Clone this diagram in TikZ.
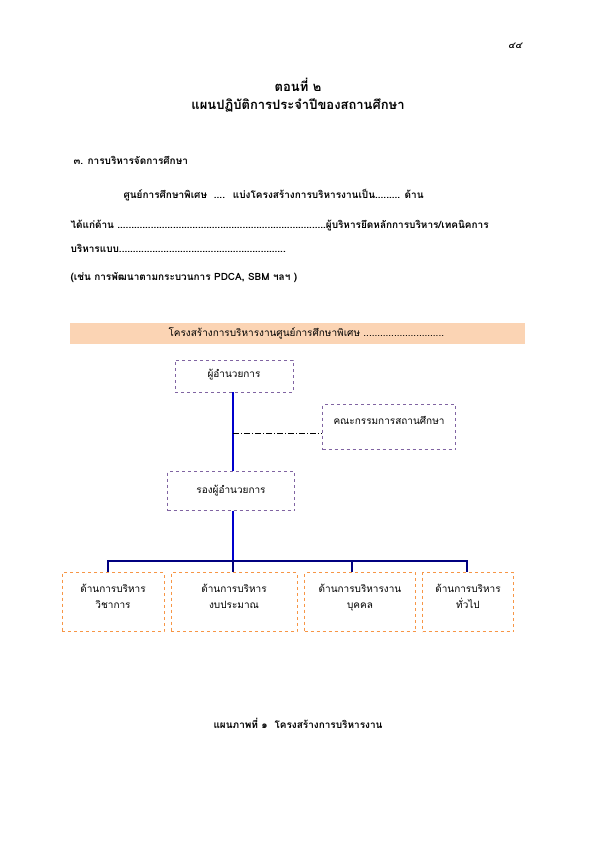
\documentclass[tikz,border=0pt]{standalone}
\usepackage{fontspec}
\setmainfont[Script=Thai]{Loma}
\usetikzlibrary{positioning, calc}
\definecolor{boxline}{HTML}{8064A2}
\definecolor{unitline}{HTML}{F79646}
\definecolor{bandfill}{HTML}{FBD4B4}
\definecolor{trunkblue}{RGB}{0,0,205}
\definecolor{busnavy}{RGB}{0,0,128}

\begin{document}
\begin{tikzpicture}[
    x=1pt, y=-1pt,
    font=\fontsize{10}{12}\selectfont,
    head/.style={
        draw=boxline, dashed, thick, minimum width=118pt, minimum height=32pt, align=center
    },
    unit/.style={
        draw=unitline, dashed, thick, minimum height=59pt, align=center, text depth=12pt
    },
    body/.style={anchor=west, font=\fontsize{10}{12}\selectfont\bfseries},
    trunk/.style={draw=trunkblue, line width=2.5pt},
    bus/.style={draw=busnavy, line width=2.5pt}
]
    \useasboundingbox (0,0) rectangle (595,842);

    % --- ข้อความส่วนบน ---
    \node [font=\fontsize{9}{11}\selectfont\bfseries\itshape] (pageno) at (515,46) {๔๔};
    \node [font=\fontsize{13}{15}\selectfont\bfseries] (part) at (298,85) {ตอนที่ ๒};
    \node [font=\fontsize{13}{15}\selectfont\bfseries, below=0pt of part] (title) {แผนปฏิบัติการประจำปีของสถานศึกษา};
    \node [body] (sec) at (70,160) {๓. การบริหารจัดการศึกษา};
    \node [body] (line1) at (120,195) {ศูนย์การศึกษาพิเศษ \ .... \ แบ่งโครงสร้างการบริหารงานเป็น......... ด้าน};
    \node [body] (line2) at (67,226) {ได้แก่ด้าน ...........................................................................ผู้บริหารยึดหลักการบริหาร/เทคนิคการ};
    \node [body] (line3) at (67,248) {บริหารแบบ............................................................};
    \node [body] (line4) at (67,278) {(เช่น การพัฒนาตามกระบวนการ PDCA, SBM ฯลฯ )};

    % --- แถบหัวเรื่อง ---
    \node [fill=bandfill, minimum width=455pt, minimum height=21pt, text width=445pt, align=left] (band) at (297,333) {\hspace{94pt}โครงสร้างการบริหารงานศูนย์การศึกษาพิเศษ .............................};

    % --- ผู้บริหาร ---
    \node [head, text depth=6pt] (director) at (234,376) {ผู้อำนวยการ};
    \node [head, minimum width=133pt, minimum height=45pt, text depth=14pt] (board) at (389,427) {คณะกรรมการสถานศึกษา};
    \node [head, minimum width=127pt, minimum height=39pt] (deputy) at (231,491) {รองผู้อำนวยการ};

    % --- ด้านการบริหาร ---
    \node [unit, minimum width=102pt] (academic) at (113,602) {ด้านการบริหาร\\[4pt]วิชาการ};
    \node [unit, minimum width=126pt] (budget) at (234,602) {ด้านการบริหาร\\[4pt]งบประมาณ};
    \node [unit, minimum width=111pt] (personnel) at (360,602) {ด้านการบริหารงาน\\[4pt]บุคคล};
    \node [unit, minimum width=91pt] (general) at (468,602) {ด้านการบริหาร\\[4pt]ทั่วไป};

    % --- เส้นเชื่อม ---
    \coordinate (trunkx) at (233,0);
    \coordinate (busy) at (0,561);
    \path [trunk] (director.south -| trunkx) -- (deputy.north -| trunkx);
    \coordinate (tap) at ($(trunkx |- director.south)!0.52!(trunkx |- deputy.north)$);
    \path [draw, dash pattern=on 6pt off 2pt on 1pt off 2pt, thin] (tap) -- (tap -| board.west);
    \path [trunk] (deputy.south -| trunkx) -- (trunkx |- busy);
    \path [bus] ([xshift=-5pt]academic.north) |- ([xshift=-1pt]general.north |- busy) -- ([xshift=-1pt]general.north);
    \path [bus] ([xshift=-1pt]budget.north) -- ([xshift=-1pt]budget.north |- busy);
    \path [bus] ([xshift=-8pt]personnel.north) -- ([xshift=-8pt]personnel.north |- busy);

    % --- คำบรรยายภาพ ---
    \node [font=\fontsize{10}{12}\selectfont\bfseries] (caption) at (298,723) {แผนภาพที่ ๑ \ โครงสร้างการบริหารงาน};

\end{tikzpicture}
\end{document}
